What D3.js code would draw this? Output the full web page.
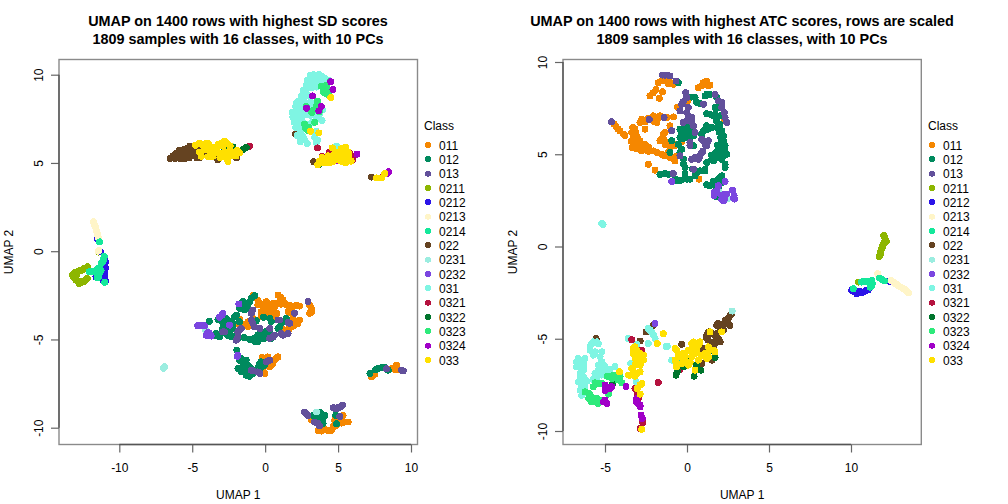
<!DOCTYPE html>
<html><head><meta charset="utf-8">
<script src="https://cdn.jsdelivr.net/npm/d3@7"></script>
<style>html,body{margin:0;padding:0;background:#fff}svg{display:block}text{font-family:"Liberation Sans",Arial,sans-serif;fill:#000}</style>
</head><body><svg id="c" width="1008" height="504"></svg>
<script>
const classes=["011","012","013","0211","0212","0213","0214","022","0231","0232","031","0321","0322","0323","0324","033"];
const colors=["#F58700","#008A5E","#62509B","#8DB600","#2B14E8","#FFF5C8","#14E89B","#654321","#9BEDE0","#7B46E0","#7FF5E3","#B5123F","#00752D","#2EEA7B","#A000C8","#FFE000"];
const tickX1=[-10,-5,0,5,10], tickY1=[-10,-5,0,5,10], tickX2=[-5,0,5,10], tickY2=[-10,-5,0,5,10];
const title1=["UMAP on 1400 rows with highest SD scores","1809 samples with 16 classes, with 10 PCs"];
const title2=["UMAP on 1400 rows with highest ATC scores, rows are scaled","1809 samples with 16 classes, with 10 PCs"];

// left panel values
const sd011=[[-0.84,-2.52],[-0.38,-2.96],[0.08,-2.86],[-0.27,-3.43],[0.31,-3.43],[0.65,-3.15],[1.0,-2.58],[1.22,-2.77],[1.45,-3.05],[1.91,-3.15],[2.37,-3.11],[0.81,-3.52],[1.79,-3.52],[3.05,-3.05],[3.17,-3.43],[2.14,-4.0],[2.37,-3.9],[1.79,-4.28],[1.45,-4.57],[-1.18,-4.0],[-1.18,-4.28],[-1.76,-3.86],[-1.64,-4.19],[-0.84,-3.81],[0.88,-5.99],[0.65,-6.18],[0.31,-6.55],[-0.15,-6.84],[-0.2,-6.02],[0.19,-5.99],[9.0,-6.46],[8.78,-6.65],[9.12,-6.71],[7.4,-7.03],[7.29,-7.12],[3.17,-9.55],[3.63,-10.15],[4.08,-10.1],[4.54,-10.15],[4.89,-9.87],[5.23,-9.74],[5.69,-9.68],[5.34,-9.3],[4.77,-9.58],
[-0.5,-2.77],[-0.5,-3.05],[-0.27,-3.71],[0.19,-3.24],[0.42,-3.15],[0.54,-3.43],[0.88,-2.96],[1.11,-2.67],[0.88,-2.48],[1.34,-2.96],[1.68,-3.05],[2.14,-3.05],[1.57,-3.43],[1.91,-3.62],[1.91,-3.9],[2.25,-4.09],[1.45,-4.47],[3.17,-3.24],[3.05,-3.52],[0.72,-3.71],[0.08,-3.62],[-1.87,-4.09],[0.54,-6.33],[0.42,-6.46],[-0.04,-6.93],[0.76,-6.08],[3.86,-10.19],[4.31,-10.15],[4.66,-9.96],[5.0,-9.77],[5.46,-9.68],[5.12,-9.58],[4.77,-9.81],[8.66,-6.65],[8.89,-6.71],[7.52,-6.97],[0.55,-2.95],[0.3,-3.15],[1.1,-3.0],[1.75,-3.3],[2.0,-4.2],[1.65,-4.4],[1.25,-4.45],[-0.1,-3.2],[-1.4,-4.15],[0.1,-3.4]];
const sd012=[[-0.72,-2.52],[-1.07,-2.86],[-1.53,-2.86],[-1.18,-3.24],[-1.98,-3.62],[-2.67,-3.81],[-2.9,-4.09],[-3.24,-3.86],[-3.82,-3.98],[-3.47,-4.76],[-3.01,-4.66],[-2.44,-4.57],[-2.21,-4.09],[-2.1,-4.85],[-2.79,-4.47],[-1.87,-4.94],[-1.48,-4.89],[-1.07,-5.0],[-0.72,-5.1],[-0.38,-4.66],[-0.04,-4.57],[0.31,-4.47],[-0.04,-4.94],[0.42,-3.98],[0.42,-4.94],[1.0,-4.28],[1.45,-3.81],[-0.11,-3.75],[-0.61,-3.94],[-0.5,-5.13],[-1.41,-3.33],[-1.94,-5.61],[-1.76,-6.18],[-1.3,-6.18],[-1.76,-6.65],[-1.41,-6.84],[-1.07,-7.08],[-1.18,-6.46],[-0.38,-6.37],[0.19,-6.23],[-0.27,-6.59],[-0.84,-6.93],[7.18,-6.93],[7.57,-6.71],[7.98,-6.59],[8.44,-6.74],[3.28,-9.3],[3.86,-9.21],[3.63,-9.58],[3.97,-9.77],[4.84,-9.3],[4.89,-9.77],[3.97,-9.49],
[-1.3,-3.05],[-0.95,-2.67],[-1.75,-3.24],[-2.1,-3.71],[-2.33,-4.0],[-2.67,-4.19],[-2.9,-4.38],[-2.56,-4.76],[-3.13,-4.85],[-3.36,-4.66],[-2.33,-4.85],[-2.21,-4.38],[-1.76,-4.0],[-0.72,-4.94],[-0.27,-4.94],[0.19,-4.76],[-0.15,-4.76],[-0.5,-4.76],[0.31,-3.81],[1.11,-4.09],[0.88,-4.38],[-2.9,-3.94],[-1.53,-6.33],[-1.87,-6.65],[-1.64,-6.84],[-1.3,-7.03],[-0.95,-6.93],[-1.41,-6.59],[-0.5,-6.59],[-0.04,-6.46],[-0.27,-6.27],[-1.64,-6.08],[3.74,-9.11],[4.08,-9.3],[3.51,-9.4],[3.86,-9.68],[7.75,-6.65],[8.2,-6.59],[-1.2,-2.95],[-1.6,-3.1],[-2.4,-4.3],[-2.6,-4.5],[-1.5,-6.55],[-1.2,-6.7],[-1.0,-6.6]];
const sd013=[[2.94,-2.86],[-0.84,-3.33],[-0.84,-4.09],[-1.76,-4.47],[-1.87,-4.85],[-2.44,-4.19],[-2.9,-4.57],[0.31,-4.38],[0.54,-4.85],[-0.38,-4.38],[1.0,-3.9],[1.57,-4.05],[1.11,-4.66],[1.57,-4.66],[2.02,-3.52],[0.08,-6.27],[-0.84,-6.78],[-0.38,-6.93],[-1.98,-5.04],[8.32,-6.65],[9.47,-6.78],[2.71,-9.11],[2.94,-9.3],[3.63,-9.77],[3.74,-9.9],[4.77,-8.92],[5.0,-8.87],[5.3,-8.73],[5.12,-9.36],
[-0.95,-3.9],[-0.72,-4.28],[-0.95,-3.52],[-1.64,-4.38],[-1.87,-4.57],[0.31,-4.94],[0.65,-4.76],[0.88,-3.9],[1.22,-4.76],[1.68,-4.09],[-2.79,-4.57],[-0.95,-6.74],[0.31,-6.18],[-0.5,-6.84],[2.83,-9.2],[3.4,-9.68],[4.89,-8.92],[4.66,-8.87],[5.16,-8.83],[9.35,-6.74]];
const sd0211=[[-12.18,-0.87],[-12.52,-1.06],[-12.87,-1.16],[-13.2,-1.35],[-12.98,-1.63],[-12.75,-1.82],[-12.4,-1.67],[-12.2,-1.55],[-11.4,-0.05],[-12.7,-1.1],[-13.05,-1.5],[-12.6,-1.7],[-12.3,-0.95],[-12.45,-1.0],[-12.65,-1.1],[-13.0,-1.2],[-13.15,-1.45],[-12.85,-1.7],[-12.5,-1.75],[-12.3,-1.6],[-12.9,-1.3],[-13.1,-1.3]];
const sd0212=[[-11.0,-0.5],[-11.0,-0.8],[-11.0,-1.1],[-11.05,-1.35],[-11.45,-1.45],[-10.95,-1.7],[-11.0,-1.55],[-11.3,-0.02],[-11.5,0.72],[-10.95,-0.6],[-10.95,-0.95],[-11.0,-1.25],[-11.6,-1.45],[-11.1,-1.65]];
const sd0213=[[-11.77,1.68],[-11.6,1.32],[-11.5,0.93],[-11.4,0.7],[-11.4,0.03],[-11.7,1.5],[-11.55,1.1],[-11.65,1.4],[-11.6,1.2],[-11.5,1.0],[-11.45,0.8],[-11.45,0.0]];
const sd0214=[[-11.35,0.53],[-11.03,-0.3],[-11.15,-0.6],[-11.37,-0.95],[-11.7,-1.13],[-12.06,-1.16],[-11.4,-1.4],[-11.0,-1.76],[-11.1,-0.5],[-11.5,-1.0],[-11.55,-1.25],[-11.25,-1.1],[-11.35,-1.2],[-11.1,-0.45],[-11.25,-0.7],[-11.9,-1.15],[-11.5,-1.5]];
const sd022=[[-6.5,5.25],[-6.3,5.4],[-6.1,5.55],[-6.0,5.3],[-5.9,5.7],[-5.7,5.4],[-5.6,5.75],[-5.4,5.5],[-5.3,5.85],[-5.2,5.3],[-5.0,5.6],[-4.9,5.4],[-4.8,5.85],[-4.6,5.55],[-4.5,5.3],[-4.3,5.8],[-4.2,5.5],[-4.0,5.6],[-3.9,5.85],[-3.7,5.35],[-3.5,5.6],[-3.24,5.18],[-1.98,5.28],[-4.4,5.9],[-4.04,5.57],[-3.47,5.7],[2.07,6.65],[2.05,7.35],[3.33,5.07],[7.3,4.2],[-6.2,5.25],[-5.8,5.25],[-5.5,5.25],[-5.1,5.75],[-4.7,5.3],[-4.4,5.45],[-6.0,5.45],[-5.6,5.5],[-5.2,5.55],[-4.75,5.6],[-5.15,5.95]];
const sd0231=[[-4.1,-4.47],[3.51,-9.11],[-6.98,-6.63],[-6.9,-6.55],[-2.3,5.95]];
const sd0232=[[-2.97,-3.62],[-3.13,-3.75],[-4.5,-4.22],[-4.16,-4.22],[-3.93,-4.6],[-3.7,-4.81],[-1.8,-2.99],[-2.44,-4.19],[-1.92,-5.95],[-2.9,-3.52],[-4.27,-4.19],[-4.62,-4.22],[-4.05,-4.76],[-3.82,-4.66],[-1.87,-5.89]];
const sd031=[[1.9,7.6],[2.0,7.9],[2.1,8.2],[2.2,7.4],[2.3,8.5],[2.4,8.0],[2.5,8.8],[2.6,7.7],[2.6,9.1],[2.7,8.4],[2.8,9.4],[2.9,9.7],[3.0,8.8],[3.1,9.95],[3.3,10.0],[3.3,9.5],[3.5,9.9],[3.7,10.0],[3.9,9.9],[4.1,9.8],[4.3,9.7],[3.6,9.5],[4.0,9.5],[2.3,7.1],[2.6,7.3],[2.9,7.2],[2.5,6.6],[2.7,6.3],[2.2,6.55],[2.4,6.2],[2.9,6.1],[3.4,7.7],[3.6,7.5],[3.2,7.3],[3.9,7.4],[3.6,6.7],[3.6,6.3],[3.4,6.45],[3.5,6.8],[3.5,6.15],[4.9,5.95],[2.0,7.3],[1.85,7.85],[2.15,7.7],[2.25,8.0],[2.35,8.3],[2.45,7.6],[2.5,8.3],[2.65,8.7],[2.8,9.0],[2.95,9.3],[3.1,9.6],[3.2,9.8],[3.45,9.65],[3.6,9.75],[3.8,9.7],[4.0,9.7],[4.2,9.5],[2.75,7.75],[3.1,7.7],[3.5,7.9],[2.1,7.0],[2.55,6.9],[2.35,6.65],[2.6,6.5],[3.75,7.8],[3.5,9.3],[3.2,9.25],[3.8,9.4],[2.35,7.8],[2.15,8.4],[2.6,8.15],[2.75,8.05],[2.85,7.95],[3.3,8.2],[3.6,8.35],[3.95,8.0],[3.1,8.45]];
const sd0321=[[3.6,5.85],[6.0,5.2],[5.8,5.55],[4.4,5.6],[4.0,5.2],[7.9,4.15],[-1.07,5.95],[5.5,5.4],[4.2,5.35],[5.9,5.4],[5.6,5.2],[3.9,5.35],[4.35,5.35]];
const sd0322=[[-2.55,5.98],[-2.78,5.66],[-1.3,5.87],[-2.2,5.9],[-1.55,5.75],[3.7,4.9]];
const sd0323=[[4.3,9.15],[3.85,9.35],[4.45,9.6],[3.6,8.5],[3.3,8.0],[2.83,8.2],[2.7,7.2],[3.4,7.3],[4.2,8.9],[3.0,7.0],[3.75,8.1],[4.1,9.2],[4.2,9.4],[4.0,9.0],[4.35,8.95],[3.5,8.2],[3.7,7.9],[3.2,7.85],[2.75,7.0],[2.9,6.85]];
const sd0324=[[4.65,9.15],[3.25,8.8],[2.83,8.1],[3.68,7.95],[3.85,8.2],[6.3,5.5],[5.0,5.13],[8.45,4.5],[8.35,4.4],[4.5,9.6]];
const sd033=[[4.5,8.7],[3.1,6.8],[3.68,6.7],[3.6,4.9],[3.8,5.1],[4.0,5.0],[4.2,5.2],[4.4,5.0],[4.6,5.2],[4.8,5.3],[4.9,5.6],[5.0,5.2],[5.2,5.8],[5.3,5.4],[5.5,5.9],[5.5,5.0],[5.7,5.6],[5.9,5.1],[3.9,5.3],[4.3,5.4],[5.3,5.6],[4.6,5.85],[7.64,4.15],[8.0,4.15],[8.2,4.4],[-4.5,6.13],[-4.04,6.13],[-4.38,5.38],[-3.8,5.75],[-3.59,5.38],[-3.24,6.04],[-2.78,6.23],[-2.67,5.28],[-2.55,5.09],[-3.13,5.57],[-2.2,5.57],[-1.75,5.57],[-4.16,5.75],[-2.44,5.7],[-2.9,5.95],[-4.78,6.0],
[-4.3,6.0],[-3.9,6.1],[-3.6,5.9],[-3.4,5.6],[-3.3,5.9],[-3.0,6.1],[-2.6,6.1],[-2.4,5.95],[-2.8,5.6],[-2.9,5.35],[-2.4,5.4],[-2.0,5.4],[-4.5,5.6],[-3.9,5.35],[-3.1,5.3],[-2.65,5.6],[-1.95,5.7],[3.7,5.1],[4.1,5.1],[4.3,5.0],[4.5,5.2],[4.7,5.1],[5.0,5.5],[5.1,5.4],[5.2,5.1],[5.4,5.7],[5.6,5.4],[5.45,5.25],[4.75,5.5],[5.35,5.05],[5.75,5.35]];

// right panel values
const atc011=[[-1.34,8.97],[-1.75,8.88],[-1.04,8.88],[-2.05,8.34],[-2.26,8.16],[-1.5,8.39],[-1.69,8.03],[1.1,8.88],[1.3,8.7],[0.69,8.61],[0.04,7.89],[-0.59,7.56],[-4.45,6.63],[-4.19,6.36],[-3.88,6.09],[-3.31,6.45],[-3.27,5.91],[-2.87,5.73],[-3.17,5.54],[-2.87,5.27],[-2.36,5.4],[-2.05,5.18],[-1.54,5.0],[-1.04,4.82],[-0.73,4.64],[-2.87,6.72],[-2.56,6.36],[-1.95,6.9],[-1.65,7.08],[-1.24,6.99],[-1.44,6.09],[-1.65,5.73],[-1.34,5.54],[-0.73,5.46],[-1.04,6.54],[-0.83,7.02],[-2.36,4.46],[-1.95,4.14],[2.28,6.9],[0.73,3.65],[-0.32,5.67],
[-1.54,8.97],[-1.14,8.82],[-0.83,8.79],[-1.89,8.52],[1.0,8.88],[1.2,8.97],[1.4,8.75],[0.9,8.7],[-4.33,6.5],[-4.09,6.27],[-3.78,6.0],[-3.37,6.18],[-3.17,6.36],[-3.07,6.0],[-3.27,5.64],[-2.97,5.54],[-2.76,5.18],[-2.56,5.27],[-2.26,5.18],[-1.85,5.1],[-1.34,4.91],[-1.14,5.1],[-0.83,4.73],[-0.63,4.91],[-2.76,6.9],[-2.36,6.95],[-2.05,7.08],[-1.85,6.72],[-1.4,5.81],[-1.14,5.64],[-0.93,5.46],[-1.54,5.81],[-1.34,6.18],[-1.04,5.37],[-0.63,5.54],[-3.4,5.7],[-3.0,5.85],[-3.1,5.3],[-3.15,6.2],[-2.6,5.55],[-2.35,5.15],[-3.35,5.35],[-2.0,6.75],[-2.55,6.75],[-1.75,6.95]];
const atc012=[[-0.53,8.88],[0.29,8.1],[0.59,7.8],[1.2,8.25],[1.81,8.07],[1.91,7.53],[1.2,7.2],[1.71,7.17],[1.81,6.81],[1.3,6.36],[0.9,6.09],[2.12,6.27],[2.22,5.73],[2.32,5.18],[1.91,4.82],[1.51,4.73],[2.32,4.46],[0.18,6.36],[-0.43,6.36],[-0.12,6.0],[0.39,5.46],[-0.93,5.73],[-0.43,5.1],[-0.22,4.46],[-0.12,3.92],[-0.83,3.56],[-0.32,3.6],[-1.65,3.89],[-1.14,3.92],[0.59,4.01],[1.1,4.19],[0.18,3.65],[1.2,4.55],[2.02,3.74],[1.4,3.29],[1.91,3.2],[1.81,2.7],[-1.04,5.1],
[0.18,6.18],[-0.02,6.36],[-0.32,6.18],[0.39,6.0],[0.18,5.81],[-0.43,5.9],[1.0,6.27],[1.2,6.54],[1.5,6.45],[1.81,6.45],[1.61,7.08],[1.4,7.17],[1.71,7.53],[2.01,7.08],[1.4,8.25],[1.1,8.16],[0.49,8.07],[0.79,7.74],[2.01,6.63],[2.22,6.0],[2.12,5.64],[2.32,5.46],[2.01,5.27],[2.22,4.91],[1.71,4.91],[2.42,5.0],[2.12,4.73],[1.61,4.64],[2.32,4.28],[1.1,4.1],[0.79,4.1],[0.49,3.83],[0.0,3.65],[-0.53,3.56],[-0.73,3.65],[-0.12,4.28],[-0.22,4.73],[-0.32,5.27],[-0.53,5.54],[-1.34,3.96],[1.91,3.65],[2.12,3.83],[1.71,3.29],[1.2,3.35],[2.12,3.47],[1.9,5.2],[2.0,4.95],[1.75,5.1],[1.5,4.95],[1.85,5.5],[2.05,5.9],[1.95,6.2],[-0.1,6.5],[0.1,6.5],[-0.25,5.85],[0.05,5.9],[1.6,3.55],[0.35,4.2]];
const atc013=[[-1.34,9.29],[-1.04,9.24],[-0.67,8.97],[-0.08,8.34],[-0.22,7.85],[0.08,7.53],[-0.43,7.35],[0.08,7.08],[-0.22,6.72],[0.29,6.72],[0.49,6.18],[1.0,7.71],[1.71,8.25],[2.12,7.8],[2.28,7.26],[2.42,6.72],[0.98,5.73],[1.2,5.46],[0.9,5.1],[0.69,4.73],[0.39,4.19],[0.29,4.73],[-0.43,4.91],[0.18,5.64],[-4.6,6.77],[-2.3,6.88],[-1.4,6.99],[-0.93,6.27],[-0.83,3.96],
[-1.48,9.29],[-1.2,9.29],[-0.02,8.07],[-0.32,7.71],[-0.02,7.26],[0.29,6.99],[-0.02,6.81],[0.39,6.54],[1.91,7.89],[2.12,7.53],[2.32,6.99],[1.1,5.54],[0.98,5.18],[0.79,4.91],[0.9,5.81],[0.49,4.82],[1.3,5.73],[0.18,5.46]];
const atc0211=[[12.0,0.6],[12.07,0.32],[11.93,0.05],[12.15,0.28],[11.77,-0.31],[11.73,-0.54],[10.45,-1.93],[11.85,-0.15],[12.05,0.5],[12.0,0.15],[11.9,-0.1],[11.8,-0.4]];
const atc0212=[[10.04,-2.38],[10.45,-2.42],[10.35,-2.56],[10.75,-2.47],[11.06,-2.34],[12.34,-1.89],[10.2,-2.45],[10.2,-2.35],[10.55,-2.45],[10.65,-2.5],[10.9,-2.4],[10.3,-2.45]];
const atc0213=[[11.63,-1.48],[12.58,-1.93],[12.79,-2.05],[13.03,-2.2],[13.29,-2.34],[13.5,-2.52],[12.7,-2.0],[12.9,-2.12],[13.15,-2.27],[13.4,-2.43],[12.45,-1.85]];
const atc0214=[[10.65,-1.93],[10.85,-1.89],[11.26,-1.84],[11.26,-2.11],[10.14,-2.29],[11.73,-1.71],[12.03,-1.87],[11.16,-2.2],[10.75,-1.9],[10.95,-1.88],[11.2,-1.95],[11.3,-2.0],[11.9,-1.8]];
const atc022=[[2.73,-3.64],[2.52,-3.91],[2.32,-4.0],[2.62,-4.27],[1.91,-4.18],[2.22,-4.54],[1.3,-4.63],[1.71,-4.81],[2.02,-5.17],[1.3,-5.08],[1.65,-5.35],[1.0,-5.53],[1.51,-6.16],[0.9,-6.34],[-0.32,-5.3],[-2.86,-5.12],[-2.5,-4.63],[-2.05,-4.27],[-2.97,-5.59],[-5.54,-4.99],
[2.62,-3.73],[2.22,-4.18],[1.81,-4.27],[2.02,-4.45],[1.81,-4.72],[1.51,-4.72],[1.2,-4.81],[1.91,-4.99],[1.41,-5.17],[1.71,-5.17],[1.2,-4.99],[1.0,-5.62],[2.52,-4.18]];
const atc0231=[[1.95,2.95],[2.5,2.6],[2.75,-3.5]];
const atc0232=[[1.67,2.93],[1.65,2.75],[2.12,2.75],[2.42,2.84],[2.22,2.48],[2.87,2.75],[2.89,2.57],[2.79,3.06],[1.91,3.29],[2.32,3.53],[-0.93,3.53],[-1.95,-4.18],[1.81,2.99],[2.32,2.84],[2.12,2.57],[2.32,2.63],[2.83,2.62]];
const atc031=[[-5.71,-5.17],[-5.91,-5.44],[-5.4,-5.26],[-5.2,-5.71],[-5.71,-5.89],[-5.2,-6.25],[-6.63,-6.07],[-6.32,-6.25],[-6.73,-6.52],[-6.32,-6.7],[-6.52,-7.15],[-6.22,-7.24],[-6.42,-7.6],[-6.42,-8.06],[-5.4,-6.7],[-5.1,-6.7],[-4.8,-6.74],[-5.5,-7.15],[-5.2,-6.97],[-4.39,-6.49],[-3.58,-4.99],[-3.43,-6.34],[-2.36,-4.45],[-2.15,-4.63],[-1.95,-4.99],[-2.36,-5.26],[-1.2,-5.41],[-3.11,-7.33],[-3.07,-5.3],[-0.93,-6.16],[-5.12,1.19],[-5.2,1.25],
[-5.81,-5.26],[-5.51,-5.17],[-5.91,-5.62],[-5.61,-5.71],[-5.3,-5.98],[-5.2,-6.43],[-5.4,-6.43],[-6.52,-6.16],[-6.73,-6.25],[-6.52,-6.52],[-6.22,-6.07],[-6.52,-6.88],[-6.32,-7.06],[-6.63,-7.34],[-6.22,-7.52],[-6.52,-7.79],[-6.22,-7.79],[-5.61,-6.88],[-5.3,-6.79],[-5.0,-6.61],[-4.69,-6.67],[-5.71,-7.21],[-2.25,-4.54],[-2.05,-4.81],[-1.28,-5.41],[-6.3,-6.45],[-6.55,-6.35],[-6.45,-7.0],[-6.35,-7.35],[-6.35,-7.95],[-6.1,-7.3],[-5.45,-6.95],[-5.35,-6.55],[-5.05,-6.45]];
const atc0321=[[-1.75,-7.37],[-2.7,-9.55],[-2.86,-9.86],[-3.03,-7.96],[-2.97,-8.24],[-3.17,-7.7],[-2.76,-5.62],[-3.37,-5.05],[-0.42,-6.67]];
const atc0322=[[-0.67,-6.97],[-0.59,-6.79],[0.43,-7.03],[0.84,-6.7],[-0.22,-6.52],[0.08,-6.13],[0.59,-6.43],[1.71,-6.02],[-4.55,-7.46],[1.3,-5.71]];
const atc0323=[[-5.81,-8.15],[-5.5,-8.24],[-6.0,-7.96],[-5.71,-8.42],[-5.4,-8.51],[-6.22,-7.88],[-5.71,-7.6],[-5.6,-7.39],[-5.2,-7.42],[-4.86,-7.03],[-4.49,-6.97],[-4.08,-7.06],[-3.98,-7.39],[-4.8,-8.0],[-0.59,-6.13],[-6.0,-8.24],[-5.81,-8.42],[-5.91,-8.06],[-5.3,-8.36],[-4.69,-7.06],[-4.3,-6.97],[-4.2,-7.24],[-4.59,-7.15],[-5.4,-7.42]];
const atc0324=[[-5.0,-7.51],[-4.69,-7.7],[-5.0,-7.79],[-5.1,-8.42],[-3.72,-7.6],[-2.97,-8.51],[-2.86,-8.69],[-2.8,-9.14],[-2.72,-9.32],[-3.07,-8.24],[-4.9,-7.64],[-4.59,-7.6],[-5.0,-8.33],[-4.9,-8.51],[-3.07,-8.42],[-2.86,-8.6]];
const atc033=[[-3.17,-5.44],[-2.86,-5.8],[-3.17,-6.07],[-2.66,-6.16],[-3.37,-6.61],[-2.86,-6.43],[-3.58,-6.97],[-3.07,-6.88],[-3.27,-5.8],[-2.76,-7.42],[-3.03,-7.7],[-2.86,-8.0],[-2.76,-9.91],[-1.44,-4.72],[-4.12,-6.79],[-1.81,-5.26],[-0.73,-5.53],[-0.53,-5.89],[-0.73,-6.16],[-0.12,-5.89],[0.19,-5.62],[0.29,-5.26],[0.79,-5.17],[0.49,-5.8],[0.08,-6.43],[0.7,-6.16],[1.2,-6.07],[1.3,-5.44],[1.71,-5.71],[-0.63,-6.52],[0.49,-6.7],[-0.32,-6.34],[2.12,-4.63],[1.4,-4.63],
[-3.07,-5.89],[-2.76,-5.98],[-2.97,-6.25],[-3.17,-6.43],[-2.66,-5.89],[-3.27,-6.79],[-3.47,-6.97],[-3.17,-7.03],[-2.86,-6.79],[-3.07,-5.62],[-3.27,-5.53],[-2.86,-7.51],[-0.63,-5.62],[-0.42,-5.98],[-0.22,-5.8],[0.29,-5.53],[0.39,-5.17],[0.7,-5.35],[0.59,-5.62],[0.29,-5.98],[0.9,-5.89],[1.1,-5.8],[1.4,-5.62],[1.61,-5.62],[1.3,-5.98],[0.19,-6.25],[-0.63,-6.34],[0.08,-5.62],[-0.12,-6.16]];

const sdData=[sd011,sd012,sd013,sd0211,sd0212,sd0213,sd0214,sd022,sd0231,sd0232,sd031,sd0321,sd0322,sd0323,sd0324,sd033];
const atcData=[atc011,atc012,atc013,atc0211,atc0212,atc0213,atc0214,atc022,atc0231,atc0232,atc031,atc0321,atc0322,atc0323,atc0324,atc033];

const svg=d3.select("#c");
svg.append("rect").attr("width",1008).attr("height",504).attr("fill","#fff");

function panel(o){
  const {box,xDom,yDom,data,xt,yt,title,cx,ylabX,legX}=o;
  const x=d3.scaleLinear().domain(xDom).range([box.l,box.r]);
  const y=d3.scaleLinear().domain(yDom).range([box.b,box.t]);
  const g=svg.append("g");
  data.forEach((pts,i)=>{
    g.append("g").selectAll("circle").data(pts).join("circle")
      .attr("cx",d=>x(d[0])).attr("cy",d=>y(d[1])).attr("r",3.5)
      .attr("fill",colors[i]).attr("shape-rendering","crispEdges");
  });
  g.append("rect").attr("x",box.l).attr("y",box.t).attr("width",box.r-box.l).attr("height",box.b-box.t)
    .attr("fill","none").attr("stroke","#8a8a8a").attr("stroke-width",1.4);
  const ax=g.append("g").attr("transform",`translate(0,${box.b})`).call(d3.axisBottom(x).tickValues(xt).tickSize(8).tickSizeOuter(0).tickFormat(d=>String(d)));
  ax.select(".domain").remove();
  ax.append("line").attr("x1",x(xt[0])).attr("x2",x(xt[xt.length-1])).attr("stroke","#555").attr("stroke-width",1.4);
  ax.selectAll(".tick line").attr("stroke","#666").attr("stroke-width",1.2);
  ax.selectAll(".tick text").attr("y",null).attr("dy",null).attr("transform","translate(0,27)").attr("font-size",12).attr("fill","#000");
  const ay=g.append("g").attr("transform",`translate(${box.l},0)`).call(d3.axisLeft(y).tickValues(yt).tickSize(8).tickSizeOuter(0).tickFormat(d=>String(d)));
  ay.select(".domain").remove();
  ay.append("line").attr("y1",y(yt[0])).attr("y2",y(yt[yt.length-1])).attr("stroke","#555").attr("stroke-width",1.4);
  ay.selectAll(".tick line").attr("stroke","#666").attr("stroke-width",1.2);
  ay.selectAll(".tick text").attr("x",null).attr("dy",null).attr("text-anchor","middle").attr("font-size",12).attr("fill","#000")
    .attr("transform",`translate(-16,0) rotate(-90)`);
  title.forEach((t,i)=>svg.append("text").attr("x",cx).attr("y",26+i*18).attr("text-anchor","middle").attr("font-size",14.4).attr("font-weight","bold").text(t));
  svg.append("text").attr("x",(box.l+box.r)/2).attr("y",499).attr("text-anchor","middle").attr("font-size",12).text("UMAP 1");
  svg.append("text").attr("transform",`translate(${ylabX},${(box.t+box.b)/2}) rotate(-90)`).attr("text-anchor","middle").attr("font-size",12).text("UMAP 2");
  svg.append("text").attr("x",legX).attr("y",130).attr("font-size",12).text("Class");
  const ly=d3.scalePoint().domain(classes).range([145,360]);
  const lg=svg.append("g");
  lg.selectAll("circle").data(classes).join("circle").attr("cx",legX+4).attr("cy",d=>ly(d)).attr("r",3.1).attr("fill",(d,i)=>colors[i]).attr("shape-rendering","crispEdges");
  lg.selectAll("text").data(classes).join("text").attr("x",legX+15).attr("y",d=>ly(d)+4.5).attr("font-size",12).text(d=>d);
}
const box1={l:59,r:417.5,t:59.5,b:444.5}, box2={l:563,r:921.3,t:59.5,b:444.5};
const sx1=d3.scaleLinear().domain([119.3,411]).range([-10,10]), sy1=d3.scaleLinear().domain([427.7,74.7]).range([-10,10]);
const sx2=d3.scaleLinear().domain([605,851]).range([-5,10]), sy2=d3.scaleLinear().domain([431,62]).range([-10,10]);
panel({box:box1,xDom:[sx1(box1.l),sx1(box1.r)],yDom:[sy1(box1.b),sy1(box1.t)],data:sdData,xt:tickX1,yt:tickY1,title:title1,cx:238,ylabX:13,legX:424});
panel({box:box2,xDom:[sx2(box2.l),sx2(box2.r)],yDom:[sy2(box2.b),sy2(box2.t)],data:atcData,xt:tickX2,yt:tickY2,title:title2,cx:742,ylabX:517,legX:928});
</script></body></html>
